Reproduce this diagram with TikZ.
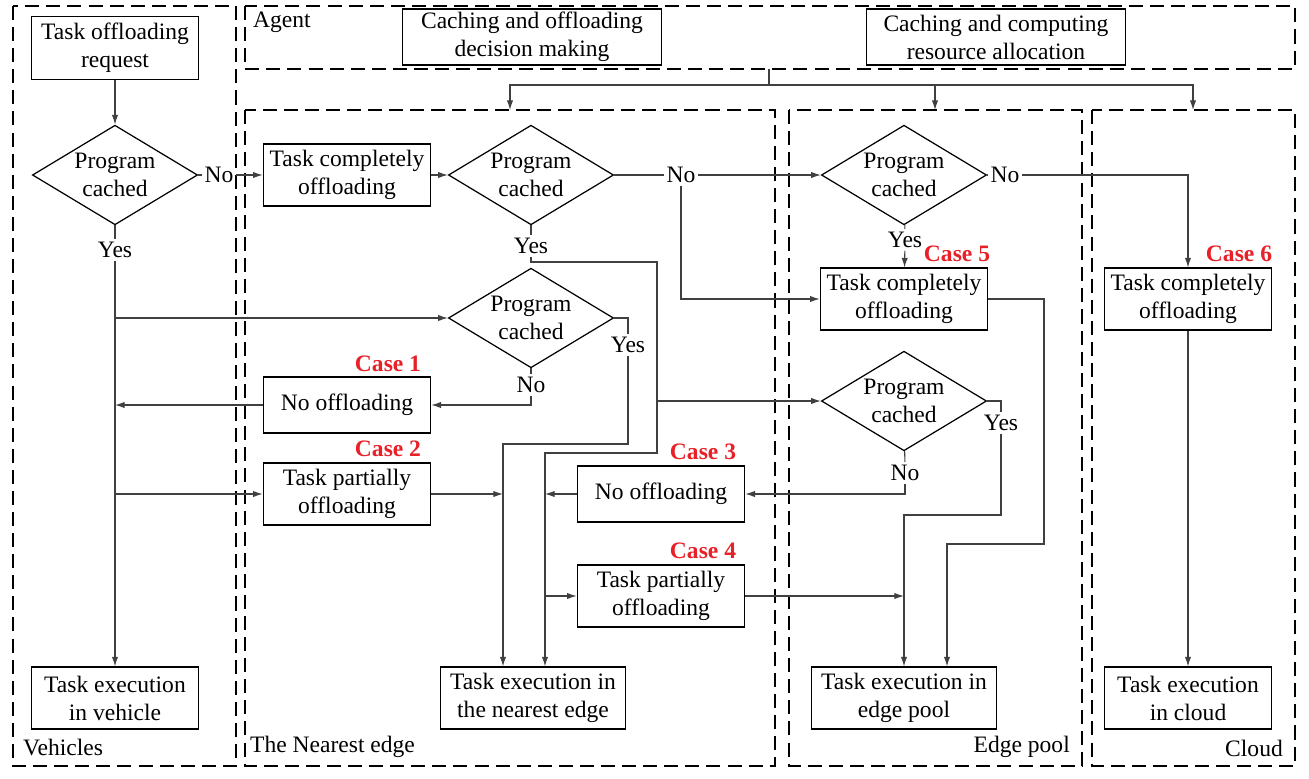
\documentclass[tikz,border=0pt]{standalone}
\usepackage{fontspec}
\setmainfont{Liberation Serif}
\usetikzlibrary{shapes.geometric,arrows.meta}
\definecolor{casered}{RGB}{232,32,40}
\tikzset{
  box/.style={draw, line width=0.7pt, minimum width=95.3pt, minimum height=35.2pt, inner sep=1pt, align=center},
  execbox/.style={box, minimum width=105.5pt},
  thinbox/.style={box, minimum height=31.8pt},
  agentbox/.style={box, minimum width=147pt, minimum height=31.8pt},
  decision/.style={draw, line width=0.7pt, diamond, aspect=1.66, minimum width=94pt, minimum height=56.7pt, inner sep=0pt, align=center},
  region/.style={line width=1.2pt, dash pattern=on 8pt off 4pt},
  flow/.style={line width=0.6pt, draw=black!75, -{Latex[length=5.5pt,width=3.6pt]}},
  link/.style={line width=0.6pt, draw=black!75},
  lbl/.style={inner sep=1.5pt},
  case/.style={text=casered, font=\fontsize{13.4}{16}\selectfont\bfseries},
}
\begin{document}
\begin{tikzpicture}[x=0.02cm, y=-0.02cm, font=\fontsize{13.4}{16}\selectfont]
	\useasboundingbox (0,0) rectangle (1309,778);

	% regions
	\draw [region] (13,6) rectangle (236,766);
	\draw [region] (245,6) rectangle (1295,69);
	\draw [region] (245,110) rectangle (775,766);
	\draw [region] (789,110) rectangle (1082,766);
	\draw [region] (1092,110) rectangle (1295,766);

	\node [anchor=west] (agent) at (247,22) {Agent};
	\node [anchor=west] (vehicles) at (17,747) {Vehicles};
	\node [anchor=west] (nearest) at (244,747) {The Nearest edge};
	\node [anchor=east] (pool) at (1076,747) {Edge pool};
	\node [anchor=east] (cloud) at (1289,748) {Cloud};

	% agent
	\node [agentbox] (dm) at (532,37) {Caching and offloading\\decision making};
	\node [agentbox] (ra) at (996,37) {Caching and computing\\resource allocation};

	% vehicles
	\node [box, minimum height=35.7pt] (req) at (115,48) {Task offloading\\request};
	\node [decision] (d1) at (115,175) {Program\\cached};
	\node [box] (exV) at (115,698) {Task execution\\in vehicle};

	% the nearest edge
	\node [box] (tc1) at (347,175) {Task completely\\offloading};
	\node [decision] (d3) at (531,175) {Program\\cached};
	\node [decision] (d2) at (531,318) {Program\\cached};
	\node [thinbox] (c1) at (347,405) {No offloading};
	\node [box] (c2) at (347,494) {Task partially\\offloading};
	\node [thinbox] (c3) at (661,494) {No offloading};
	\node [box] (c4) at (661,596) {Task partially\\offloading};
	\node [execbox] (exN) at (533,698) {Task execution in\\the nearest edge};

	% edge pool
	\node [decision] (e1) at (904,175) {Program\\cached};
	\node [box] (c5) at (904,299) {Task completely\\offloading};
	\node [decision] (e2) at (904,401) {Program\\cached};
	\node [execbox] (exP) at (904,698) {Task execution in\\edge pool};

	% cloud
	\node [box] (c6) at (1188,299) {Task completely\\offloading};
	\node [box] (exC) at (1188,698) {Task execution\\in cloud};

	% cases
	\node [case] (case1) at (388,364) {Case 1};
	\node [case] (case2) at (388,449) {Case 2};
	\node [case] (case3) at (703,452) {Case 3};
	\node [case] (case4) at (703,551) {Case 4};
	\node [case] (case5) at (957,254) {Case 5};
	\node [case] (case6) at (1239,254) {Case 6};

	% yes / no
	\node [lbl] (no1) at (219,175) {No};
	\node [lbl] (yes1) at (115,250) {Yes};
	\node [lbl] (no3) at (681,175) {No};
	\node [lbl] (yes3) at (531,246) {Yes};
	\node [lbl] (yes2) at (628,345) {Yes};
	\node [lbl] (no2) at (531,385) {No};
	\node [lbl] (no5) at (1005,175) {No};
	\node [lbl] (yes5) at (905,240) {Yes};
	\node [lbl] (yes6) at (1001,423) {Yes};
	\node [lbl] (no6) at (905,473) {No};

	\coordinate (k1) at (657,262);
	\coordinate (k2) at (657,453);
	\coordinate (k3) at (503,444);
	\coordinate (k4) at (1044,544);
	\coordinate (k5) at (904,515);
	\coordinate (colB) at (545,453);
	\coordinate (colD) at (947,544);
	\coordinate (agentS) at (769,69);
	\coordinate (hub) at (769,85);
	\coordinate (nearN) at (510,110);
	\coordinate (poolN) at (935,110);
	\coordinate (cloudN) at (1193,110);

	% agent to regions
	\draw [link] (agentS) -- (hub);
	\draw [flow] (hub) -| (nearN);
	\draw [flow] (hub) -| (poolN);
	\draw [flow] (hub) -| (cloudN);

	% vehicles
	\draw [flow] (req) -- (d1);
	\draw [link] (d1) -- (no1);
	\draw [flow] (no1) -- (tc1);
	\draw [link] (d1) -- (yes1);
	\draw [flow] (yes1) -- (exV);
	\draw [flow] (yes1 |- d2) -- (d2);
	\draw [flow] (c1) -- (yes1 |- c1);
	\draw [flow] (yes1 |- c2) -- (c2);

	% the nearest edge
	\draw [flow] (tc1) -- (d3);
	\draw [link] (d3) -- (no3);
	\draw [flow] (no3) -- (e1);
	\draw [flow] (no3) |- (c5);
	\draw [link] (d3) -- (yes3);
	\draw [flow] (yes3) |- (k1) -- (k2) -| (colB |- exN.north);
	\draw [flow] (k1 |- e2) -- (e2);
	\draw [link] (d2.east) -| (yes2);
	\draw [flow] (yes2) |- (k3) -- (k3 |- exN.north);
	\draw [link] (d2) -- (no2);
	\draw [flow] (no2) |- (c1);
	\draw [flow] (c2) -- (k3 |- c2);
	\draw [flow] (c3) -- (colB |- c3);
	\draw [flow] (colB |- c4) -- (c4);
	\draw [flow] (c4) -- (k5 |- c4);

	% edge pool
	\draw [link] (e1) -- (no5);
	\draw [flow] (no5) -| (c6);
	\draw [link] (e1) -- (yes5);
	\draw [flow] (yes5) -- (c5);
	\draw [flow] (c5) -| (k4) -| (colD |- exP.north);
	\draw [link] (e2.east) -| (yes6);
	\draw [flow] (yes6) |- (k5) -- (exP);
	\draw [link] (e2) -- (no6);
	\draw [flow] (no6) |- (c3);

	% cloud
	\draw [flow] (c6) -- (exC);
\end{tikzpicture}
\end{document}
